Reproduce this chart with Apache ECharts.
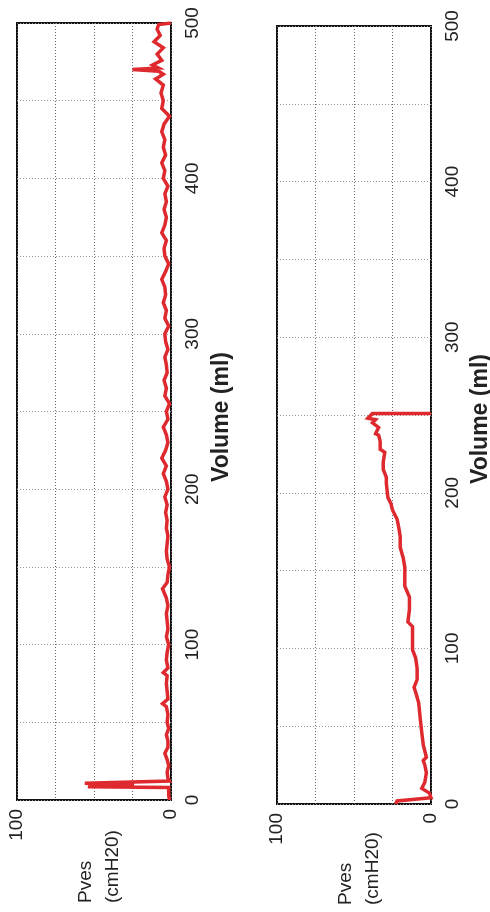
<!DOCTYPE html>
<html>
<head>
<meta charset="utf-8">
<script src="https://cdn.jsdelivr.net/npm/echarts@6/dist/echarts.min.js"></script>
<style>
  html, body { margin: 0; padding: 0; background: #fff; }
  #chart { width: 490px; height: 912px; }
</style>
</head>
<body>
<div id="chart"></div>
<script>
// Left panel: vesical pressure (cmH2O) against infused volume (ml)
const topVolume = [0, 3, 6, 8, 8.6, 9.6, 10.8, 12.2, 14, 18, 22, 26, 30, 34, 38, 42, 46, 50, 55, 60, 62, 65, 70, 75, 80, 82, 85, 90, 95,
  100, 105, 110, 115, 120, 125, 130, 136, 140, 145, 150, 155, 160, 165, 170, 175, 180, 185, 190, 195,
  200, 205, 210, 215, 220, 225, 230, 235, 240, 245, 250, 255, 260, 265, 270, 275, 280, 285, 290, 295,
  300, 305, 310, 315, 320, 325, 330, 335, 340, 345, 350, 355, 360, 365, 370, 375, 380, 385, 390, 395,
  400, 405, 410, 415, 420, 425, 430, 435, 440, 445, 450, 455, 460, 464, 467, 469, 470, 471, 473, 476,
  480, 484, 488, 492, 496, 499, 500];
const topPves = [1, 1.5, 1.5, 1.5, 54, 24, 56, 1, 2, 2.5, 1.5, 2.5, 4, 2, 2, 3, 1.5, 2.5, 2, 3, 5.5, 2, 2.5, 3, 2.5, 5, 2, 3, 2.5,
  1.5, 3, 2, 2.5, 3, 2, 3, 5.5, 2.5, 2, 1, 2.5, 3, 2.5, 2, 3, 2.5, 3.5, 2.5, 4,
  2, 3, 5, 3, 6, 3.5, 2, 3, 5, 2, 3, 1, 4, 3, 4.5, 2.5, 3, 4, 2, 3.5,
  4, 1.5, 4, 3, 5, 3.5, 4, 6, 3.5, 1.5, 4, 4.5, 3, 6, 4, 3, 4.5, 3, 4, 2,
  5, 4, 6, 3.5, 5, 4, 6, 4.5, 1, 6, 5, 6.5, 5, 10, 5, 8, 25, 8, 12, 6,
  9, 5, 11, 7, 9, 8, 0];

// Right panel: second filling
const bottomVolume = [0, 2, 4, 7, 10, 14, 20, 25, 28, 30, 38, 46, 55, 65, 72, 75, 80, 87, 94, 99, 107, 114, 117, 125, 133,
  140, 146, 152, 158, 165, 172, 178, 183, 189, 193, 197, 206, 210, 215, 220, 226, 228, 233, 237, 238, 242, 245, 247, 248, 251, 251];
const bottomPves = [23, 22, 0, 1, 6, 4, 3, 4, 5, 3, 5, 6, 7, 8, 10, 11, 9, 9, 10, 12, 12, 12, 15, 14, 14,
  17, 17, 17, 18, 20, 20, 21, 22, 25, 26, 28, 29, 29, 31, 31, 30, 33, 33, 34, 36, 34, 38, 36, 41, 38, 0];

const pvesTicks = [0, 100];
const volumeTicks = [0, 100, 200, 300, 400, 500];

const FONT = '"Liberation Sans", Arial, Helvetica, sans-serif';
const RED = '#de2a2f';

const pairs = (vol, p) => vol.map((v, i) => [p[i], v]);

const panels = [
  { left: 17, top: 23, height: 777 },
  { left: 277, top: 26, height: 778 }
];

const grids = panels.map(p => ({
  left: p.left, top: p.top, width: 154, height: p.height,
  show: true, borderColor: '#111', borderWidth: 2, backgroundColor: 'transparent'
}));

const xAxes = panels.map((p, i) => ({
  type: 'value', gridIndex: i, min: 0, max: 100, interval: 25, inverse: true,
  axisLine: { show: false }, axisTick: { show: false },
  splitLine: { show: true, lineStyle: { type: [1, 2], color: '#666', width: 1 } },
  axisLabel: {
    rotate: 90, margin: 9, fontSize: 19, fontFamily: FONT, color: '#222',
    formatter: v => pvesTicks.includes(v) ? String(v) : ''
  }
}));

const yAxes = panels.map((p, i) => ({
  type: 'value', gridIndex: i, min: 0, max: 500, interval: 50, position: 'right',
  axisLine: { show: false }, axisTick: { show: false },
  splitLine: { show: true, lineStyle: { type: [1, 2], color: '#999', width: 1 } },
  axisLabel: {
    rotate: 90, margin: 12, fontSize: 19, fontFamily: FONT, color: '#222',
    formatter: v => volumeTicks.includes(v) ? String(v) : ''
  }
}));

const lineSeries = (i, data) => ({
  type: 'line', xAxisIndex: i, yAxisIndex: i, data,
  showSymbol: false, symbol: 'none', animation: false,
  lineStyle: { color: RED, width: 3.5, join: 'miter' }
});

const rotatedText = (x, y, text, extra) => ({
  type: 'text', x, y, rotation: Math.PI / 2, silent: true,
  style: Object.assign({
    text, fill: '#222', fontFamily: FONT, fontSize: 19
  }, extra)
});

const chart = echarts.init(document.getElementById('chart'), null, { renderer: 'canvas' });
chart.setOption({
  animation: false,
  backgroundColor: '#fff',
  grid: grids,
  xAxis: xAxes,
  yAxis: yAxes,
  series: [
    lineSeries(0, pairs(topVolume, topPves)),
    lineSeries(1, pairs(bottomVolume, bottomPves))
  ],
  graphic: [
    rotatedText(222, 417, 'Volume (ml)', { fontWeight: 'bold', fontSize: 23, align: 'center', verticalAlign: 'middle' }),
    rotatedText(481, 419, 'Volume (ml)', { fontWeight: 'bold', fontSize: 23, align: 'center', verticalAlign: 'middle' }),
    rotatedText(99, 903, 'Pves\n(cmH20)', { align: 'left', verticalAlign: 'middle', lineHeight: 27 }),
    rotatedText(359, 905, 'Pves\n(cmH20)', { align: 'left', verticalAlign: 'middle', lineHeight: 27 })
  ]
});
</script>
</body>
</html>
